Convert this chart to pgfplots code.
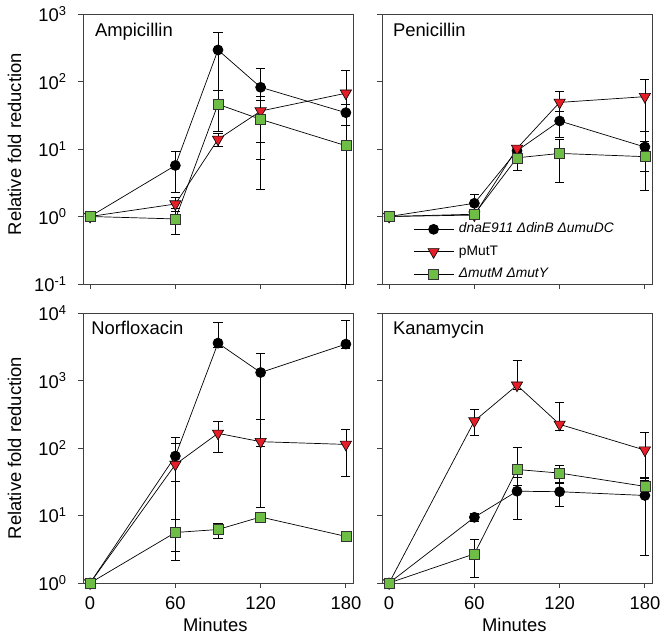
\documentclass[border=0pt]{standalone}
\usepackage{fontspec}
\setmainfont{Liberation Sans}
\usepackage{pgfplots}
\pgfplotsset{compat=1.18}
\definecolor{myred}{RGB}{230,30,40}
\definecolor{mygreen}{RGB}{110,190,70}
\newcommand{\bigf}{\fontsize{18.4}{21}\selectfont}
\newcommand{\legf}{\fontsize{13.8}{16}\selectfont}
\pgfplotsset{
  myPanel/.style={
    width=270pt, height=270pt, scale only axis,
    xmin=-5, xmax=185, xtick={0,60,120,180},
    tick align=outside, xtick pos=bottom, ytick pos=left,
    axis line style={black!75, line width=0.8pt},
    tick style={black!75, line width=0.8pt},
    major tick length=5pt, yminorticks=false, xminorticks=false,
    tick label style={font=\bigf},
    yticklabel style={xshift=-8pt},
    xticklabel style={yshift=-5pt},
    clip=false,
  },
  mySA/.style={black, line width=0.7pt, mark=*, mark size=5pt, mark options={fill=black, draw=black},
    error bars/y dir=both, error bars/y explicit,
    error bars/error bar style={line width=0.7pt, black},
    error bars/error mark options={rotate=90, mark size=4.5pt, line width=0.7pt, black}},
  mySB/.style={black, line width=0.7pt, mark=triangle*, mark size=6.5pt, mark options={fill=myred, draw=black, rotate=180, line width=0.6pt},
    error bars/y dir=both, error bars/y explicit,
    error bars/error bar style={line width=0.7pt, black},
    error bars/error mark options={rotate=90, mark size=4.5pt, line width=0.7pt, black}},
  mySC/.style={black, line width=0.7pt, mark=square*, mark size=5pt, mark options={fill=mygreen, draw=black!80, line width=0.6pt},
    error bars/y dir=both, error bars/y explicit,
    error bars/error bar style={line width=0.7pt, black},
    error bars/error mark options={rotate=90, mark size=4.5pt, line width=0.7pt, black}},
}
\newcommand{\tsup}[1]{10\textsuperscript{#1}}
\begin{document}
\begin{tikzpicture}
\useasboundingbox (0,0) rectangle (665pt,639pt);
% Ampicillin
\begin{axis}[myPanel, ymode=log, ymin=0.1, ymax=1000, ytick={0.1,1,10,100,1000},
  at={(83pt,355pt)}, anchor=south west,
  xticklabels={},
  yticklabels={\tsup{-1},\tsup{0},\tsup{1},\tsup{2},\tsup{3}}]
\addplot[mySA] coordinates {
 (0,1) += (0,0.08) -= (0,0.08)
 (60,5.7) += (0,3.4) -= (0,3.4)
 (90,293) += (0,242) -= (0,242)
 (120,82) += (0,75) -= (0,75)
 (180,34.5) += (0,12) -= (0,12)
};
\addplot[mySB] coordinates {
 (0,1) += (0,0.05) -= (0,0.05)
 (60,1.53) += (0,0.4) -= (0,0.35)
 (90,13.9) += (0,3) -= (0,3)
 (120,36.5) += (0,24) -= (0,24)
 (180,67) += (0,81) -= (0,55)
};
\addplot[mySC] coordinates {
 (0,1) += (0,0.08) -= (0,0.08)
 (60,0.92) += (0,0.38) -= (0,0.38)
 (90,46) += (0,28) -= (0,28)
 (120,27.5) += (0,25) -= (0,25)
 (180,11.2) += (0,11) -= (0,11.1)
};
\node[anchor=base west, inner sep=0pt, font=\bigf] at (rel axis cs:0.044,0.915) {Ampicillin};
\node[anchor=base, rotate=90, inner sep=0pt, font=\bigf] at (axis description cs:-0.2296,0.518) {Relative fold reduction};
\end{axis}
% Penicillin
\begin{axis}[myPanel, ymode=log, ymin=0.1, ymax=1000, ytick={0.1,1,10,100,1000},
  at={(382pt,355pt)}, anchor=south west,
  xticklabels={}, yticklabels={},
  legend style={at={(axis description cs:0.115,0.231)}, anchor=north west, draw=none, fill=none,
    inner sep=0pt, row sep=7.5pt, column sep=4pt,
    nodes={inner sep=1pt, text height=10pt, text depth=3pt}},
  legend cell align=left,
  legend image code/.code={\draw[mark repeat=2,mark phase=2,#1] plot coordinates {(0pt,0pt) (20pt,0pt) (40pt,0pt)};}]
\addplot[mySA] coordinates {
 (0,1) += (0,0.05) -= (0,0.05)
 (60,1.57) += (0,0.58) -= (0,0.58)
 (90,9.4) += (0,1.5) -= (0,1.5)
 (120,26) += (0,10.5) -= (0,11.3)
 (180,10.7) += (0,7.3) -= (0,6)
};
\addlegendentry{\legf\itshape dnaE911 ΔdinB ΔumuDC}
\addplot[mySB] coordinates {
 (0,1) += (0,0.05) -= (0,0.05)
 (60,1.05) += (0,0.1) -= (0,0.1)
 (90,10.2) += (0,1) -= (0,1)
 (120,49) += (0,21.6) -= (0,21.6)
 (180,59.6) += (0,48) -= (0,48)
};
\addlegendentry{\legf pMutT}
\addplot[mySC] coordinates {
 (0,1) += (0,0.08) -= (0,0.08)
 (60,1.08) += (0,0.1) -= (0,0.1)
 (90,7.4) += (0,2.6) -= (0,2.6)
 (120,8.6) += (0,5.4) -= (0,5.4)
 (180,7.7) += (0,5.3) -= (0,5.3)
};
\addlegendentry{\legf\itshape ΔmutM ΔmutY}
\node[anchor=base west, inner sep=0pt, font=\bigf] at (rel axis cs:0.04,0.915) {Penicillin};
\end{axis}
% Norfloxacin
\begin{axis}[myPanel, ymode=log, ymin=1, ymax=10000, ytick={1,10,100,1000,10000},
  at={(83pt,56pt)}, anchor=south west,
  xticklabels={0,60,120,180},
  yticklabels={\tsup{0},\tsup{1},\tsup{2},\tsup{3},\tsup{4}}]
\addplot[mySA] coordinates {
 (0,1) += (0,0.05) -= (0,0.05)
 (60,76) += (0,69) -= (0,73.8)
 (90,3580) += (0,3680) -= (0,500)
 (120,1313) += (0,1232) -= (0,1300)
 (180,3460) += (0,4410) -= (0,500)
};
\addplot[mySB] coordinates {
 (0,1) += (0,0.05) -= (0,0.05)
 (60,57) += (0,60) -= (0,25)
 (90,165) += (0,86) -= (0,78)
 (120,124) += (0,139) -= (0,20)
 (180,113) += (0,76) -= (0,75)
};
\addplot[mySC] coordinates {
 (0,1) += (0,0.05) -= (0,0.05)
 (60,5.6) += (0,3.3) -= (0,2.7)
 (90,6.2) += (0,1.5) -= (0,1.6)
 (120,9.5) += (0,0.5) -= (0,0.5)
 (180,4.9) += (0,0.3) -= (0,0.3)
};
\node[anchor=base west, inner sep=0pt, font=\bigf] at (rel axis cs:0.03,0.922) {Norfloxacin};
\node[anchor=base, rotate=90, inner sep=0pt, font=\bigf] at (axis description cs:-0.2296,0.5) {Relative fold reduction};
\node[anchor=base, inner sep=0pt, font=\bigf] at (axis description cs:0.49,-0.181) {Minutes};
\end{axis}
% Kanamycin
\begin{axis}[myPanel, ymode=log, ymin=1, ymax=10000, ytick={1,10,100,1000,10000},
  at={(382pt,56pt)}, anchor=south west,
  xticklabels={0,60,120,180}, yticklabels={}]
\addplot[mySA] coordinates {
 (0,1) += (0,0.05) -= (0,0.05)
 (60,9.4) += (0,1.2) -= (0,1.2)
 (90,22.9) += (0,14) -= (0,14.2)
 (120,22.5) += (0,8.8) -= (0,8.8)
 (180,19.8) += (0,17) -= (0,17.2)
};
\addplot[mySB] coordinates {
 (0,1) += (0,0.05) -= (0,0.05)
 (60,251) += (0,124) -= (0,97)
 (90,851) += (0,1150) -= (0,100)
 (120,224) += (0,257) -= (0,40)
 (180,93) += (0,76) -= (0,60)
};
\addplot[mySC] coordinates {
 (0,1) += (0,0.05) -= (0,0.05)
 (60,2.7) += (0,1.7) -= (0,1.5)
 (90,48) += (0,53) -= (0,20)
 (120,42.5) += (0,13.2) -= (0,13)
 (180,27) += (0,8) -= (0,8)
};
\node[anchor=base west, inner sep=0pt, font=\bigf] at (rel axis cs:0.04,0.919) {Kanamycin};
\node[anchor=base, inner sep=0pt, font=\bigf] at (axis description cs:0.49,-0.181) {Minutes};
\end{axis}
\end{tikzpicture}
\end{document}
